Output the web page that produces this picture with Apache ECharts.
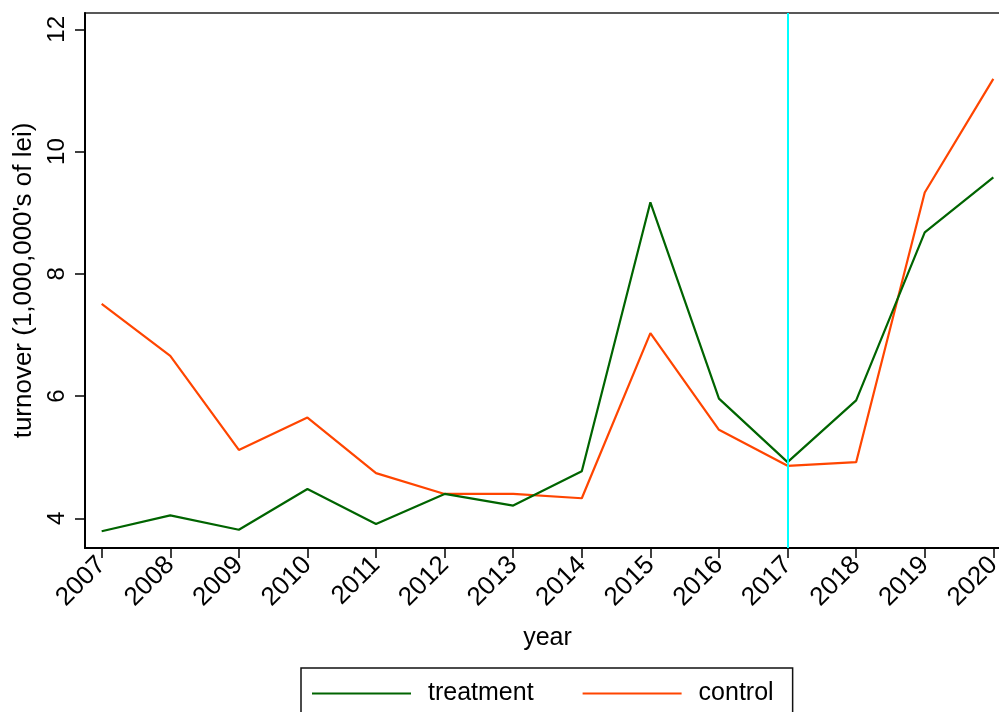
<!DOCTYPE html>
<html>
<head>
<meta charset="utf-8">
<script src="https://cdn.jsdelivr.net/npm/echarts@6/dist/echarts.min.js"></script>
<style>
html,body{margin:0;padding:0;background:#fff;overflow:hidden;width:999px;height:712px;}
#chart{width:1010px;height:712px;}
</style>
</head>
<body>
<div id="chart"></div>
<script>
const years = [2007,2008,2009,2010,2011,2012,2013,2014,2015,2016,2017,2018,2019,2020];
const treatment = [3.79,4.05,3.815,4.48,3.91,4.40,4.21,4.77,9.17,5.96,4.92,5.93,8.68,9.58];
const control = [7.51,6.66,5.12,5.65,4.74,4.40,4.40,4.33,7.03,5.45,4.86,4.92,9.33,11.19];
const yTicks = [4,6,8,10,12];
const treatYear = 2017;

const FONT = 'Liberation Sans, Arial, Helvetica, sans-serif';
const chart = echarts.init(document.getElementById('chart'), null, {renderer:'canvas'});
chart.setOption({
  animation:false,
  backgroundColor:'#fff',
  grid:{left:85, top:13, right:0, bottom:164, show:true, borderColor:'#222', borderWidth:1.5, backgroundColor:'transparent'},
  legend:{
    left:301, top:668,
    padding:[13,19,30,11],
    borderColor:'#111', borderWidth:1.5,
    itemWidth:99, itemHeight:2, itemGap:49, icon:'rect',
    textStyle:{fontFamily:FONT, fontSize:25, color:'#000', padding:[0,0,0,12]},
    data:['treatment','control']
  },
  xAxis:{
    type:'value', min:2006.757, max:2020.243,
    name:'year', nameLocation:'middle', nameGap:78,
    nameTextStyle:{fontFamily:FONT, fontSize:25, color:'#000'},
    axisLine:{show:true, onZero:false, lineStyle:{color:'#000', width:2}},
    axisTick:{show:true, length:10, lineStyle:{color:'#000', width:1.5}, customValues:years},
    axisLabel:{rotate:45, fontFamily:FONT, fontSize:26, color:'#000', margin:13, customValues:years, formatter:v=>String(v)},
    splitLine:{show:false}
  },
  yAxis:{
    type:'value', min:3.516, max:12.267,
    name:"turnover (1,000,000's of lei)", nameLocation:'middle', nameGap:38, nameRotate:90,
    nameTextStyle:{fontFamily:FONT, fontSize:26, color:'#000'},
    axisLine:{show:true, lineStyle:{color:'#000', width:2}},
    axisTick:{show:true, length:10, lineStyle:{color:'#000', width:1.5}, customValues:yTicks},
    axisLabel:{rotate:90, fontFamily:FONT, fontSize:24, color:'#000', margin:16, customValues:yTicks},
    splitLine:{show:false}
  },
  series:[
    {
      name:'treatment', type:'line', symbol:'none', z:3,
      data:years.map((y,i)=>[y,treatment[i]]),
      lineStyle:{color:'#006400', width:2.2}, itemStyle:{color:'#006400'},
      markLine:{
        silent:true, symbol:['none','none'], label:{show:false},
        lineStyle:{color:'#00FFFF', width:2, type:'solid'},
        data:[{xAxis:treatYear}]
      }
    },
    {
      name:'control', type:'line', symbol:'none', z:2,
      data:years.map((y,i)=>[y,control[i]]),
      lineStyle:{color:'#FF4500', width:2.2}, itemStyle:{color:'#FF4500'}
    }
  ]
});
</script>
</body>
</html>
